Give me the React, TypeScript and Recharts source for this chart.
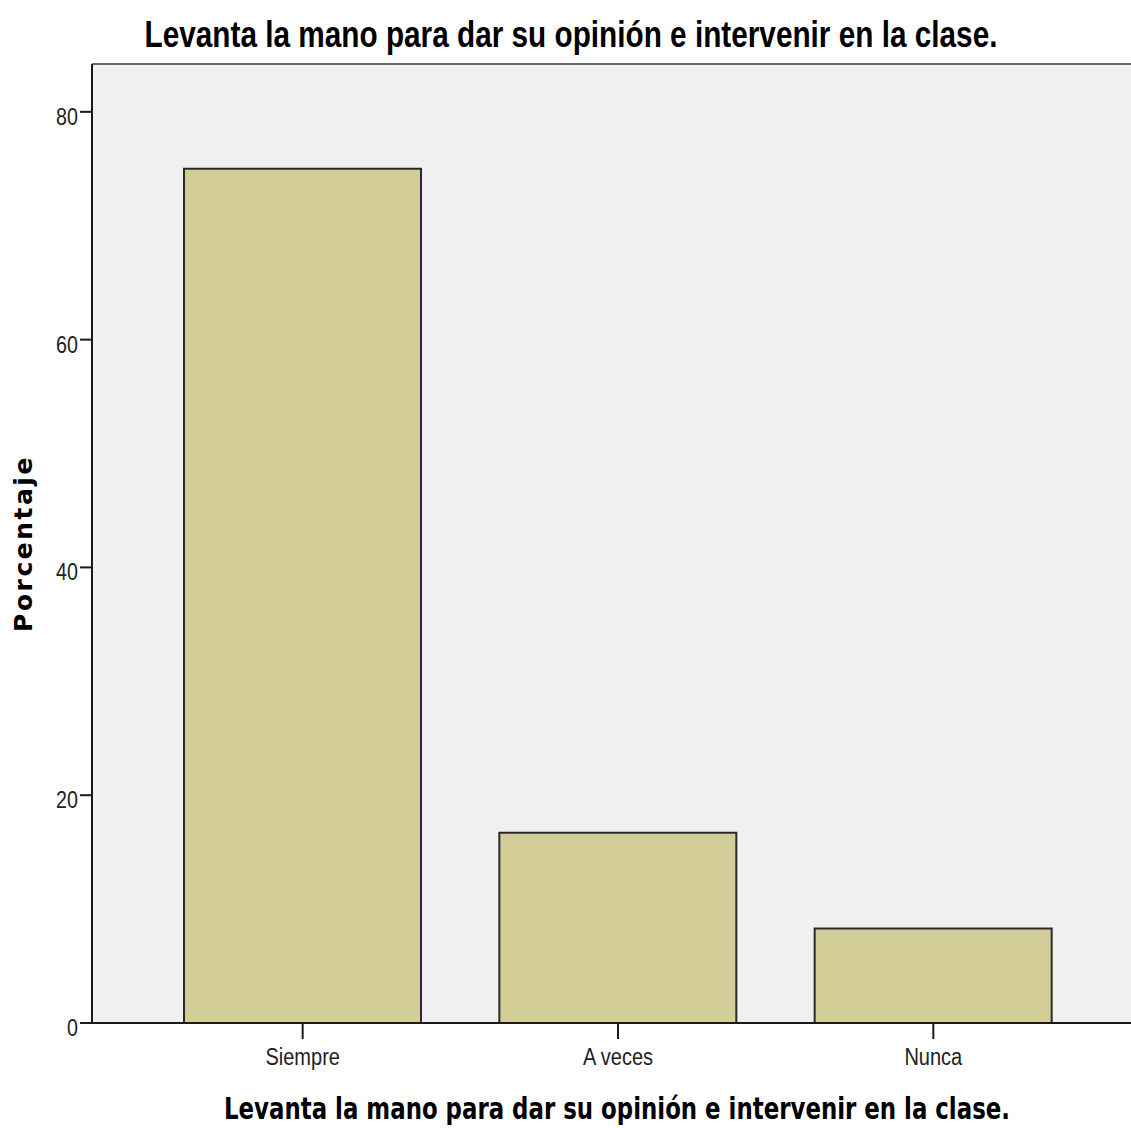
import React from 'react';
import { BarChart, Bar, XAxis, YAxis, CartesianGrid, ReferenceLine, Label } from 'recharts';

const categories = ['Siempre', 'A veces', 'Nunca'];
const percentages = [75.0, 16.7, 8.3];
const yTicks = [0, 20, 40, 60, 80];
const yMax = 84.2;
const titleText = 'Levanta la mano para dar su opinión e intervenir en la clase.';
const xAxisTitle = 'Levanta la mano para dar su opinión e intervenir en la clase.';
const yAxisTitle = 'Porcentaje';

const data = categories.map((c, i) => ({ name: c, value: percentages[i] }));

const sans = '"Liberation Sans", Arial, sans-serif';
const dejavu = '"DejaVu Sans", Verdana, sans-serif';

const XTick = (props: any) => {
  const { x, y, payload } = props;
  return (
    <text
      transform={`translate(${x},${y + 22}) scale(0.87,1)`}
      textAnchor="middle"
      fontFamily={sans}
      fontSize={23}
      fill="#222"
    >
      {payload.value}
    </text>
  );
};

const YTick = (props: any) => {
  const { x, y, payload } = props;
  return (
    <text
      transform={`translate(${x},${y + 13}) scale(0.82,1)`}
      textAnchor="end"
      fontFamily={sans}
      fontSize={24}
      fill="#222"
    >
      {payload.value}
    </text>
  );
};

const XTitle = (props: any) => {
  const vb = props.viewBox || {};
  const cx = vb.x + 525;
  const by = vb.y + vb.height - 9;
  return (
    <text
      transform={`translate(${cx},${by}) scale(0.763,1)`}
      textAnchor="middle"
      fontFamily={dejavu}
      fontWeight="bold"
      fontSize={30}
      fill="#000"
    >
      {xAxisTitle}
    </text>
  );
};

const YTitle = (props: any) => {
  const vb = props.viewBox || {};
  const cx = vb.x + 32;
  const cy = vb.y + vb.height / 2;
  return (
    <text
      transform={`translate(${cx},${cy}) rotate(-90)`}
      textAnchor="middle"
      letterSpacing={2.5}
      fontFamily={dejavu}
      fontWeight="bold"
      fontSize={25}
      fill="#000"
    >
      {yAxisTitle}
    </text>
  );
};

export default function App() {
  return (
    <div style={{ position: 'absolute', left: 0, top: 0, width: 1131, height: 1128, background: '#fff' }}>
      <svg width={1131} height={62} style={{ position: 'absolute', left: 0, top: 0 }}>
        <text
          transform="translate(571,47) scale(0.804,1)"
          textAnchor="middle"
          fontFamily={sans}
          fontWeight="bold"
          fontSize={37}
          fill="#000"
        >
          {titleText}
        </text>
      </svg>
      <BarChart
        width={1131}
        height={1128}
        data={data}
        margin={{ top: 64, right: 0, bottom: 0, left: 0 }}
        barSize={237}
      >
        <CartesianGrid fill="#F0F0F0" stroke="none" horizontal={false} vertical={false} />
        <ReferenceLine y={yMax} stroke="#6a6a6a" strokeWidth={2} />
        <XAxis
          dataKey="name"
          padding={{ left: 53, right: 40 }}
          axisLine={{ stroke: '#1a1a1a', strokeWidth: 2 }}
          tickLine={{ stroke: '#1a1a1a', strokeWidth: 2 }}
          tickSize={16}
          tickMargin={4}
          tick={<XTick />}
          height={105}
        >
          <Label content={<XTitle />} position="insideBottom" />
        </XAxis>
        <YAxis
          type="number"
          domain={[0, yMax]}
          ticks={yTicks}
          allowDataOverflow
          axisLine={{ stroke: '#1a1a1a', strokeWidth: 2 }}
          tickLine={{ stroke: '#1a1a1a', strokeWidth: 2 }}
          tickSize={12}
          tickMargin={2}
          tick={<YTick />}
          width={92}
        >
          <Label content={<YTitle />} position="insideLeft" />
        </YAxis>
        <Bar dataKey="value" fill="#D3CE97" stroke="#2a2a2a" strokeWidth={2} isAnimationActive={false} />
      </BarChart>
    </div>
  );
}
